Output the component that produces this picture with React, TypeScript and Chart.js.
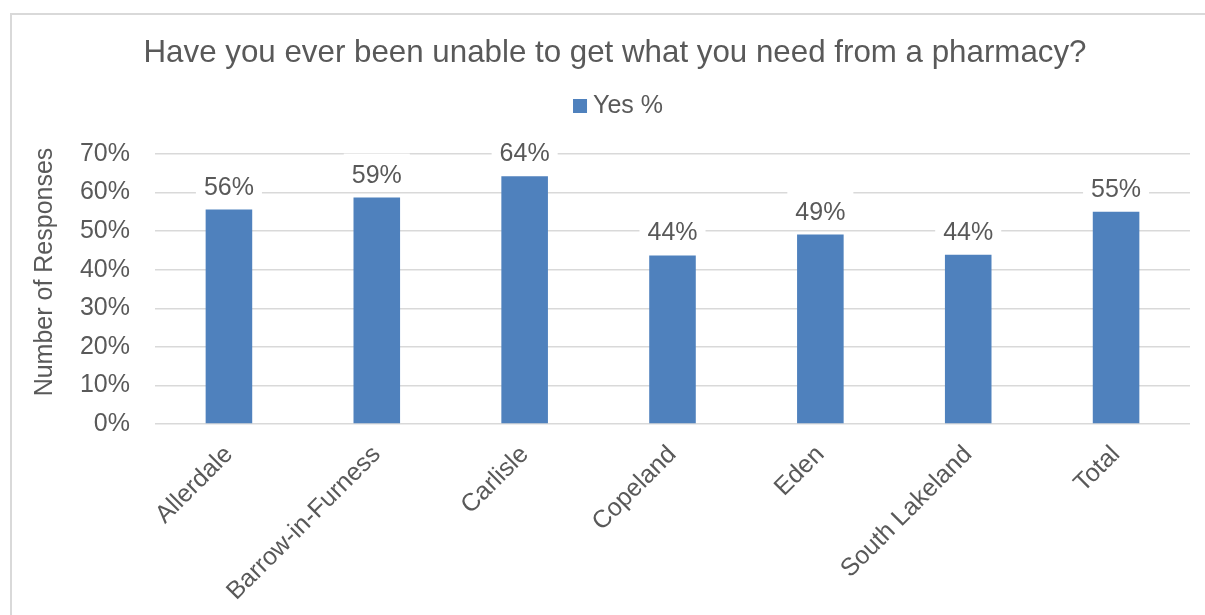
import React, { useEffect, useRef } from "react";
import { Chart, registerables } from "chart.js";

Chart.register(...registerables);

const categories = [
  "Allerdale",
  "Barrow-in-Furness",
  "Carlisle",
  "Copeland",
  "Eden",
  "South Lakeland",
  "Total",
];
const yesPercent = [55.6, 58.7, 64.2, 43.7, 49.1, 43.9, 55.0];
const yTicks = [0, 10, 20, 30, 40, 50, 60, 70];
const titleText = "Have you ever been unable to get what you need from a pharmacy?";
const seriesName = "Yes %";
const yAxisTitle = "Number of Responses";

const FONT = '"Liberation Sans", Arial, sans-serif';
const TEXT = "#595959";
const BAR = "#4F81BD";
const GRID = "#d9d9d9";

const decorPlugin = {
  id: "decor",
  beforeDraw(chart: any) {
    const ctx = chart.ctx;
    ctx.save();
    ctx.fillStyle = "#ffffff";
    ctx.fillRect(0, 0, chart.width, chart.height);
    ctx.strokeStyle = GRID;
    ctx.lineWidth = 2;
    ctx.strokeRect(11, 14, chart.width + 40, chart.height + 40);
    // title
    ctx.fillStyle = TEXT;
    ctx.font = `31.3px ${FONT}`;
    ctx.textAlign = "center";
    ctx.textBaseline = "alphabetic";
    ctx.fillText(titleText, 615, 62);
    // legend
    ctx.font = `25px ${FONT}`;
    const w = ctx.measureText(seriesName).width;
    const box = 14;
    const gap = 6;
    const x0 = 618 - (box + gap + w) / 2;
    ctx.fillStyle = BAR;
    ctx.fillRect(x0, 99, box, box);
    ctx.fillStyle = TEXT;
    ctx.textAlign = "left";
    ctx.fillText(seriesName, x0 + box + gap, 113);
    // y axis title
    ctx.translate(45, 272);
    ctx.rotate(-Math.PI / 2);
    ctx.textAlign = "center";
    ctx.textBaseline = "middle";
    ctx.font = `25px ${FONT}`;
    ctx.fillText(yAxisTitle, 0, 0);
    ctx.restore();
  },
  afterDatasetsDraw(chart: any) {
    const ctx = chart.ctx;
    const meta = chart.getDatasetMeta(0);
    ctx.save();
    ctx.font = `25px ${FONT}`;
    ctx.textBaseline = "alphabetic";
    ctx.textAlign = "center";
    meta.data.forEach((bar: any, i: number) => {
      const txt = Math.round(yesPercent[i]) + "%";
      const w = ctx.measureText(txt).width;
      const base = bar.y - 15;
      ctx.fillStyle = "#ffffff";
      ctx.fillRect(bar.x - w / 2 - 8, base - 29, w + 16, 37);
      ctx.fillStyle = TEXT;
      ctx.fillText(txt, bar.x, base);
    });
    ctx.restore();
  },
};

export default function App() {
  const canvasRef = useRef<HTMLCanvasElement | null>(null);

  useEffect(() => {
    if (!canvasRef.current) return;
    const chart = new Chart(canvasRef.current, {
      type: "bar",
      data: {
        labels: categories,
        datasets: [
          {
            label: seriesName,
            data: yesPercent,
            backgroundColor: BAR,
            borderWidth: 0,
            categoryPercentage: 1,
            barPercentage: 0.315,
          },
        ],
      },
      options: {
        responsive: false,
        animation: false,
        layout: { padding: { top: 154, right: 15, bottom: 0, left: 0 } },
        plugins: {
          legend: { display: false },
          title: { display: false },
          tooltip: { enabled: false },
        },
        scales: {
          x: {
            grid: { display: false },
            border: { display: false },
            ticks: {
              color: TEXT,
              font: { family: FONT, size: 25 },
              maxRotation: 45,
              minRotation: 45,
              autoSkip: false,
              padding: 8,
            },
            afterFit: (s: any) => {
              s.height = 191;
            },
          },
          y: {
            min: 0,
            max: 70,
            afterBuildTicks: (s: any) => {
              s.ticks = yTicks.map((v) => ({ value: v }));
            },
            grid: { color: GRID, lineWidth: 1.5, drawTicks: false },
            border: { display: false },
            ticks: {
              color: TEXT,
              font: { family: FONT, size: 25 },
              padding: 25,
              callback: (v: any) => v + "%",
            },
            title: { display: false },
            afterFit: (s: any) => {
              s.width = 155;
            },
          },
        },
      },
      plugins: [decorPlugin],
    });
    return () => chart.destroy();
  }, []);

  return (
    <div style={{ position: "fixed", left: 0, top: 0, width: 1205, height: 615 }}>
      <canvas ref={canvasRef} width={1205} height={615} style={{ display: "block" }} />
    </div>
  );
}
